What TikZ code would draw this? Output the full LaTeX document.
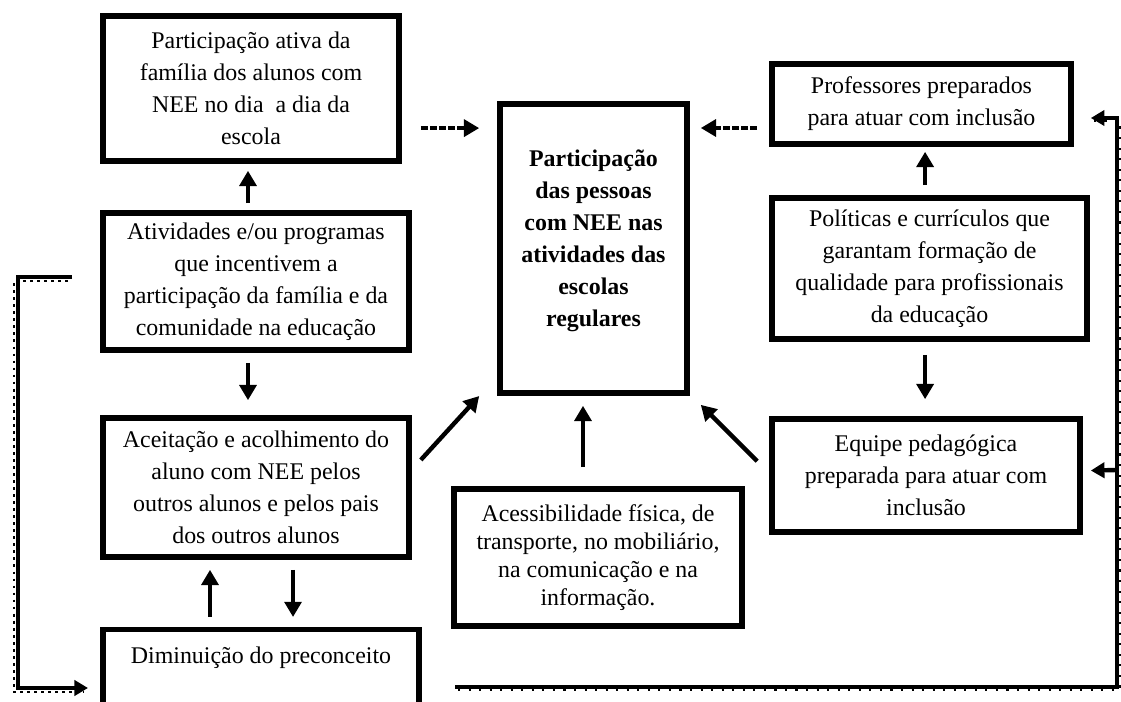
\documentclass[tikz,border=0pt]{standalone}
\usepackage{fontspec}
\setmainfont{Liberation Serif}
\usetikzlibrary{arrows.meta}

\begin{document}
\begin{tikzpicture}[x=0.025cm, y=-0.025cm]

\tikzstyle{every node} = [rectangle, fill=white, align=center, font=\fontsize{17pt}{22.8pt}\selectfont]
\tikzstyle{box} = [draw, line width=0.14cm, inner sep=0pt]
\tikzstyle{arr} = [line width=0.11cm, -{Triangle[length=0.38cm, width=0.42cm]}]
\tikzstyle{dasharr} = [arr, dash pattern=on 5pt off 1.5pt]
\tikzstyle{loop} = [line width=0.11cm, -{Triangle[length=0.34cm, width=0.38cm]}]
\tikzstyle{loopl} = [loop, postaction={draw, -, line width=0.8pt, dash pattern=on 2pt off 3pt, transform canvas={shift={(-4,4)}}}]
\tikzstyle{loopr} = [loop, postaction={draw, -, line width=1.2pt, dash pattern=on 1.5pt off 6pt, transform canvas={shift={(3,3)}}}]

\useasboundingbox (0,0) rectangle (1121,702);

\node[box, minimum width=7.41cm, minimum height=3.635cm] (b1) at (251,88.5) {Participação ativa da\\família dos alunos com\\NEE no dia \ a dia da\\escola};
\node[box, minimum width=7.66cm, minimum height=3.435cm] (b2) at (256,281.5) {Atividades e/ou programas\\que incentivem a\\participação da família e da\\comunidade na educação};
\node[box, minimum width=7.66cm, minimum height=3.485cm] (b3) at (256,487.5) {Aceitação e acolhimento do\\aluno com NEE pelos\\outros alunos e pelos pais\\dos outros alunos};
\node[box, anchor=north, minimum width=7.91cm, inner sep=0.2cm, text height=0.65cm, text depth=3cm] (b4) at (261,626.8) {Diminuição do preconceito};

\node[box, minimum width=4.685cm, minimum height=7.235cm, text depth=0.5cm, font=\fontsize{17pt}{22.8pt}\selectfont\bfseries] (bc) at (593.5,248.5) {Participação\\das pessoas\\com NEE nas\\atividades das\\escolas\\regulares};
\node[box, minimum width=7.21cm, minimum height=3.435cm, font=\fontsize{17pt}{19.8pt}\selectfont] (ba) at (598,557.5) {Acessibilidade física, de\\transporte, no mobiliário,\\na comunicação e na\\informação.};

\node[box, minimum width=7.485cm, minimum height=2.01cm] (bp) at (921.5,104) {Professores preparados\\para atuar com inclusão};
\node[box, minimum width=7.885cm, minimum height=3.535cm] (bpol) at (929.5,268.5) {Políticas e currículos que\\garantam formação de\\qualidade para profissionais\\da educação};
\node[box, minimum width=7.71cm, minimum height=2.835cm] (be) at (926,475.5) {Equipe pedagógica\\preparada para atuar com\\inclusão};

\coordinate (l1) at (72,277);
\coordinate (l2) at (18,688);
\coordinate (l3) at (88,688);
\coordinate (r1) at (455,687);
\coordinate (r2) at (1117,687);
\coordinate (r3) at (1117,470);

\draw[arr, shorten <=0.17cm, shorten >=0.17cm] ([xshift=-0.2cm]b2.north) -- ([xshift=-0.2cm]b2.north |- b1.south);
\draw[arr, shorten <=0.245cm, shorten >=0.37cm] ([xshift=-0.2cm]b2.south) -- ([xshift=-0.2cm]b2.south |- b3.north);
\draw[arr, shorten <=0.245cm, shorten >=0.245cm] ([xshift=-1.275cm]b4.north) -- ([xshift=-1.275cm]b4.north |- b3.south);
\draw[arr, shorten <=0.245cm, shorten >=0.245cm] ([xshift=0.925cm]b3.south) -- ([xshift=0.925cm]b3.south |- b4.north);

\draw[dasharr, shorten <=0.47cm, shorten >=0.445cm] ([yshift=-0.99cm]b1.east) -- ([yshift=-0.99cm]b1.east -| bc.west);
\draw[dasharr, shorten <=0.295cm, shorten >=0.27cm] ([yshift=-0.6cm]bp.west) -- ([yshift=-0.6cm]bp.west -| bc.east);

\draw[arr] ([xshift=0.22cm, yshift=0.69cm]b3.east) -- ([xshift=-0.445cm]bc.south west);
\draw[arr, shorten <=0.47cm, shorten >=0.245cm] ([xshift=-0.375cm]ba.north) -- ([xshift=-0.375cm]ba.north |- bc.south);
\draw[arr] ([xshift=-0.295cm, yshift=0.36cm]be.west) -- ([xshift=0.27cm, yshift=-0.22cm]bc.south east);

\draw[arr, shorten <=0.245cm, shorten >=0.12cm] ([xshift=-0.11cm]bpol.north) -- ([xshift=-0.11cm]bpol.north |- bp.south);
\draw[arr, shorten <=0.32cm, shorten >=0.42cm] ([xshift=-0.11cm]bpol.south) -- ([xshift=-0.11cm]bpol.south |- be.north);

\draw[loopl] (l1) -| (l2) -- (l3);
\draw[loopr, shorten >=0.42cm] (r1) -- (r2) |- ([yshift=-0.35cm]bp.east);
\draw[loop, shorten >=0.195cm] (r3) -- ([yshift=0.12cm]be.east);
\end{tikzpicture}
\end{document}
